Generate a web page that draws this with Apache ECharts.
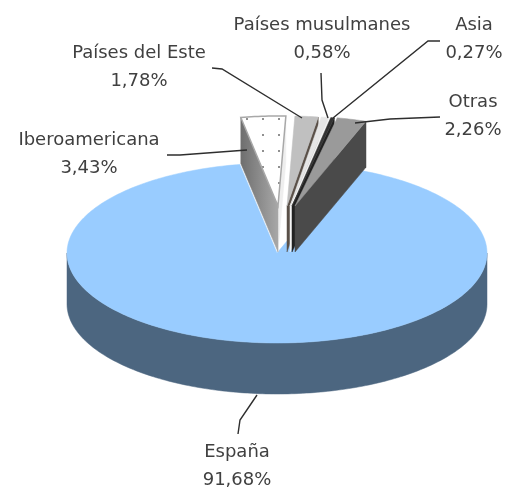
<!DOCTYPE html>
<html>
<head>
<meta charset="utf-8">
<style>html,body{margin:0;padding:0;background:#fff}#chart{width:508px;height:491px}</style>
<script src="https://cdn.jsdelivr.net/npm/echarts@6/dist/echarts.min.js"></script>
</head>
<body>
<div id="chart"></div>
<script>
// Data, in drawing order (clockwise from the first wedge)
var categories = ['España', 'Iberoamericana', 'Países del Este', 'Países musulmanes', 'Asia', 'Otras'];
var shares = [91.68, 3.43, 1.78, 0.58, 0.27, 2.26];

// Look of each slice
var topColors = ['#99ccff', '#ffffff', '#c0c0c0', '#e6e6e6', '#333333', '#9a9a9a'];
var leftFaceColors = ['#4c6680', '#858585', null, null, null, null];
var rightFaceColors = ['#4c6680', '#eeeeee', '#5a5048', '#f4f4f4', '#222222', '#4a4a4a'];

// 3D projection of the pie
var centerX = 277, centerY = 253, radiusX = 210, radiusY = 90, depth = 51, wedgeDepth = 46;
var startAngle = -10.2;
var explodeX = [0, 1, 10, 13, 15, 18];
var explodeY = [0, -47, -47, -47, -47, -47];

// Label and leader layout
var labelAnchors = [[237, 466], [89, 154], [139, 67], [322, 39], [474, 39], [473, 116]];
var leaderLines = [
  [[257, 395], [240, 420], [238, 434]],
  [[167, 155], [180, 155], [247, 150]],
  [[212, 68], [222, 69], [302, 118]],
  [[321, 73], [322, 100], [328, 118]],
  [[440, 41], [428, 41], [333, 118]],
  [[440, 117], [390, 119], [355, 123]]
];
var labelFont = '18px "DejaVu Sans"';

var total = shares.reduce(function (s, v) { return s + v; }, 0);
var spans = shares.map(function (v) { return v / total * 360; });
// wedge order around the circle starts at Iberoamericana; España closes the circle
var angleStart = [], acc = startAngle;
for (var i = 1; i < shares.length; i++) { angleStart[i] = acc; acc += spans[i]; }
angleStart[0] = acc;

function pt(ax, ay, deg, yOff) {
  var r = deg * Math.PI / 180;
  return [ax + radiusX * Math.sin(r), ay - radiusY * Math.cos(r) + (yOff || 0)];
}
function arc(ax, ay, a0, a1, yOff) {
  var pts = [], n = Math.max(2, Math.ceil(Math.abs(a1 - a0)));
  for (var k = 0; k <= n; k++) pts.push(pt(ax, ay, a0 + (a1 - a0) * k / n, yOff));
  return pts;
}
function dots() {
  var c = document.createElement('canvas');
  c.width = 16; c.height = 16;
  var g = c.getContext('2d');
  g.fillStyle = '#fff'; g.fillRect(0, 0, 16, 16);
  g.fillStyle = '#909090'; g.fillRect(6, 6, 2, 2);
  return c;
}
var dotPattern = { image: dots(), repeat: 'repeat' };

function poly(points, fill, stroke) {
  return { type: 'polygon', shape: { points: points },
    style: { fill: fill, stroke: stroke || fill, lineWidth: stroke ? 1.5 : 0.5 } };
}

function renderItem(params, api) {
  var i = params.dataIndex;
  var children = [];
  var ax = centerX + explodeX[i], ay = centerY + explodeY[i];
  var a0 = angleStart[i], a1 = a0 + spans[i];
  if (i === 0) {
    var front = arc(ax, ay, 90, 270, 0);
    var back = arc(ax, ay, 270, 90, depth);
    children.push(poly(front.concat(back), '#4c6680'));
    children.push(poly([[ax, ay]].concat(arc(ax, ay, a0, a1, 0)), topColors[0]));
  } else {
    var d = wedgeDepth;
    var tip = [ax, ay], tipLow = [ax, ay + d];
    var o0 = pt(ax, ay, a0), o1 = pt(ax, ay, a1);
    if (rightFaceColors[i]) {
      children.push(poly([tip, o1, [o1[0], o1[1] + d], tipLow], rightFaceColors[i]));
    }
    if (leftFaceColors[i]) {
      children.push(poly([tip, o0, [o0[0], o0[1] + d], tipLow], {
        type: 'linear', x: 0, y: 0, x2: 1, y2: 0,
        colorStops: [{ offset: 0, color: '#6e6e6e' }, { offset: 1, color: '#a8a8a8' }]
      }));
    }
    var face = [tip].concat(arc(ax, ay, a0, a1, 0));
    children.push(poly(face, i === 1 ? dotPattern : topColors[i], i === 1 ? '#a8a8a8' : null));
  }
  children.push({ type: 'polyline', shape: { points: leaderLines[i] },
    style: { fill: 'none', stroke: '#2e2e2e', lineWidth: 1.4 } });
  var pct = api.value(0).toFixed(2).replace('.', ',') + '%';
  children.push({ type: 'text', x: labelAnchors[i][0], y: labelAnchors[i][1],
    style: { text: categories[i] + '\n' + pct, font: labelFont, fill: '#404040',
      align: 'center', verticalAlign: 'middle', lineHeight: 28 } });
  return { type: 'group', children: children };
}

var chart = echarts.init(document.getElementById('chart'));
chart.setOption({
  animation: false,
  backgroundColor: '#ffffff',
  series: [{
    type: 'custom',
    coordinateSystem: 'none',
    renderItem: renderItem,
    data: shares.map(function (v) { return [v]; }),
    silent: true
  }]
});
</script>
</body>
</html>
